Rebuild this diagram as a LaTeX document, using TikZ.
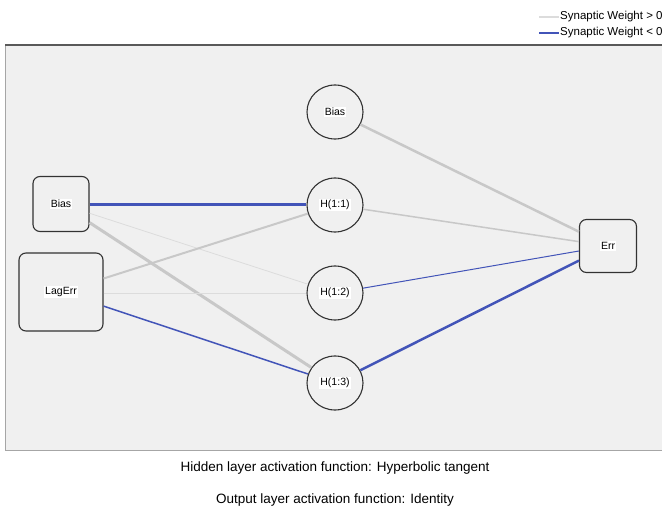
\documentclass[tikz,border=0pt]{standalone}
\usepackage{fontspec}
\setmainfont{Liberation Sans}
\usetikzlibrary{shapes.geometric}
\definecolor{wpos}{RGB}{200,200,200}
\definecolor{wposlight}{RGB}{220,220,220}
\definecolor{wneg}{RGB}{66,84,184}
\definecolor{panel}{RGB}{240,240,240}
\definecolor{edgec}{RGB}{50,50,50}
\tikzset{
  lbl/.style={fill=white,inner sep=1pt,font=\fontsize{10.5}{11}\selectfont},
  inbox/.style={draw=edgec,line width=1.1pt,rounded corners=7pt,fill=panel,inner sep=0pt},
  hid/.style={draw=edgec,line width=1.1pt,ellipse,fill=panel,minimum width=56pt,minimum height=54pt,inner sep=0pt},
  wd/.style={line width=#1},
  legt/.style={anchor=west,inner sep=0pt,font=\fontsize{11.5}{12}\selectfont},
  capt/.style={font=\fontsize{13.5}{14}\selectfont},
}
\begin{document}
\begin{tikzpicture}[x=1pt,y=-1pt]
\useasboundingbox (0,0) rectangle (662,508);
% panel
\fill[panel] (5,45) rectangle (662,450);
\draw[gray!70,line width=0.8pt] (5,450) -- (5,45);
\draw[gray!70,line width=0.8pt] (5,450) -- (662,450);
\draw[black!65,line width=1.8pt] (5,45) -- (662,45);
% legend
\coordinate (lg1a) at (539,17); \coordinate (lg1b) at (559,17);
\coordinate (lg2a) at (539,33); \coordinate (lg2b) at (559,33);
\draw[wposlight,line width=1.2pt] (lg1a) -- (lg1b);
\draw[wneg,line width=1.2pt] (lg2a) -- (lg2b);
\node[legt] (lt1) at (560,17) {Synaptic Weight > 0};
\node[legt] (lt2) at (560,33) {Synaptic Weight < 0};
% nodes
\node[inbox,minimum width=56pt,minimum height=55pt,label={[lbl]center:Bias}] (ib) at (61,204) {};
\node[inbox,minimum width=84pt,minimum height=78pt,label={[lbl]center:LagErr}] (lag) at (61,292) {};
\node[hid,label={[lbl]center:Bias}] (hb) at (335,112) {};
\node[hid,label={[lbl]center:H(1:1)}] (h1) at (335,205) {};
\node[hid,label={[lbl]center:H(1:2)}] (h2) at (335,293) {};
\node[hid,label={[lbl]center:H(1:3)}] (h3) at (335,383) {};
\node[inbox,minimum width=57pt,minimum height=53pt,label={[lbl]center:Err}] (err) at (608,246) {};
% connections
\draw[wposlight,wd=0.8pt] (ib) -- (h2);
\draw[wpos,wd=3pt] (ib) -- (h3);
\draw[wneg,wd=3pt] (ib.east |- h1) -- (h1);
\draw[wpos,wd=2pt] (lag) -- (h1);
\draw[wposlight,wd=1pt] (lag.east |- h2) -- (h2);
\draw[wneg,wd=1.5pt] (lag) -- (h3);
\draw[wpos,wd=2.5pt] (hb) -- (err);
\draw[wpos,wd=1.5pt] (h1) -- (err);
\draw[wneg,wd=1pt] (h2) -- (err);
\draw[wneg,wd=2.5pt] (h3) -- (err);
% captions
\node[capt] (c1) at (335,468) {Hidden layer activation function: Hyperbolic tangent};
\node[capt] (c2) at (335,500) {Output layer activation function: Identity};
\end{tikzpicture}
\end{document}
